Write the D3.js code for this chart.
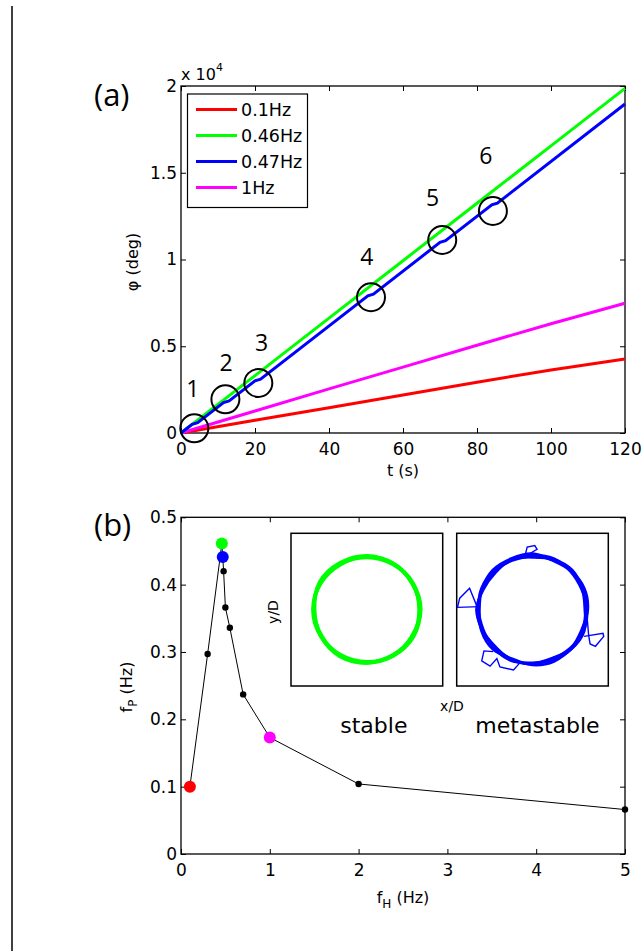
<!DOCTYPE html>
<html>
<head>
<meta charset="utf-8">
<script src="https://cdn.jsdelivr.net/npm/d3@7"></script>
<style>
body { margin: 0; background: #fff; }
svg { display: block; }
text { font-family: "DejaVu Sans", sans-serif; fill: #000; }
.calib { font-family: "Open Sans", sans-serif; }
</style>
</head>
<body>
<div class="fig"></div>
<script>

// ---- panel (a): phase vs time ----
var tA = [0, 20, 40, 60, 80, 100, 120];
var phiRed = [0, 730, 1460, 2190, 2930, 3630, 4260];
var phiGreen = [0, 3310, 6620, 9930, 13240, 16550, 19860];
var phiMagenta = [0, 1270, 2540, 3800, 5060, 6300, 7480];
var tBlue = [0, 3, 4.5, 11.5, 13, 20, 21.5, 50.5, 52, 70, 71.5, 84, 85.5, 120];
var phiBlue = [0, 497, 595, 1753, 1852, 3010, 3108, 7908, 8006, 10985, 11083, 13152, 13250, 18960];
var legendLabels = ["0.1Hz", "0.46Hz", "0.47Hz", "1Hz"];
var yTicksA = [0, 5000, 10000, 15000, 20000];
var xTicksA = [0, 20, 40, 60, 80, 100, 120];

// phase slips marked with circles
var slipT = [3.6, 12, 20.9, 51.35, 70.6, 84.3];
var slipPhi = [271, 1944, 2882, 7824, 11124, 12795];
var slipLabelT = [3.2, 12.2, 21.8, 50.2, 68, 82.4];
var slipLabelPhi = [2594, 4110, 5262, 10202, 13585, 16023];

// ---- panel (b): fP vs fH ----
var fH = [0.1, 0.3, 0.46, 0.47, 0.48, 0.5, 0.55, 0.7, 1, 2, 5];
var fP = [0.1, 0.297, 0.461, 0.441, 0.42, 0.366, 0.336, 0.237, 0.173, 0.104, 0.066];
var markedHz = [0.1, 0.46, 0.47, 1];
var xTicksB = [0, 1, 2, 3, 4, 5];
var yTicksB = [0, 0.1, 0.2, 0.3, 0.4, 0.5];

// insets: orbit radius (x/D units) sampled at equal angles
var greenLoops = [
  [0.70, 0.70, 0.69, 0.70, 0.71, 0.70, 0.69, 0.69, 0.70, 0.71, 0.70, 0.69],
  [0.69, 0.69, 0.70, 0.69, 0.70, 0.69, 0.70, 0.70, 0.69, 0.70, 0.71, 0.70],
  [0.71, 0.70, 0.70, 0.71, 0.69, 0.70, 0.70, 0.71, 0.70, 0.69, 0.72, 0.71]
];
var blueLoops = [
  [0.72, 0.73, 0.71, 0.70, 0.72, 0.73, 0.71, 0.70, 0.72, 0.71, 0.70, 0.72, 0.73, 0.71, 0.70, 0.71],
  [0.70, 0.71, 0.73, 0.72, 0.70, 0.71, 0.73, 0.72, 0.70, 0.73, 0.72, 0.70, 0.71, 0.73, 0.72, 0.70],
  [0.74, 0.70, 0.72, 0.74, 0.73, 0.70, 0.72, 0.74, 0.73, 0.70, 0.74, 0.73, 0.70, 0.72, 0.74, 0.73],
  [0.69, 0.72, 0.74, 0.71, 0.69, 0.74, 0.73, 0.69, 0.71, 0.72, 0.69, 0.71, 0.74, 0.70, 0.69, 0.72]
];
var blueExcursions = [
  [[-0.69, 0.04], [-0.99, 0.03], [-0.96, 0.15], [-0.83, 0.28], [-0.74, 0.06], [-0.70, 0.02]],
  [[-0.10, 0.70], [-0.07, 0.82], [0.03, 0.84], [0.06, 0.79], [-0.06, 0.72], [-0.02, 0.71]],
  [[0.72, -0.09], [0.74, -0.33], [0.76, -0.45], [0.83, -0.48], [0.94, -0.35], [0.93, -0.31], [0.68, -0.35]],
  [[-0.52, -0.55], [-0.64, -0.54], [-0.67, -0.67], [-0.56, -0.74], [-0.47, -0.64], [-0.43, -0.75],
   [-0.25, -0.79], [-0.17, -0.70], [-0.30, -0.64], [-0.40, -0.60]]
];

var width = 643, height = 951;
var svg = d3.select(".fig").append("svg")
    .attr("width", width)
    .attr("height", height);

var colors = d3.scaleOrdinal().domain(legendLabels).range(["#ff0000", "#00ff00", "#0000ff", "#ff00ff"]);
var colorByHz = d3.scaleOrdinal().domain(markedHz).range(["#ff0000", "#00ff00", "#0000ff", "#ff00ff"]);

// left margin rule
svg.append("line")
    .attr("x1", 12).attr("x2", 12).attr("y1", 6).attr("y2", height)
    .attr("stroke", "#000").attr("stroke-width", 1.5);

// helper: boxed matlab-style axes with inward ticks
function boxAxes(g, x, y, xt, yt, xfmt, yfmt) {
    var r = x.range(), b = y.range();
    g.append("g").attr("transform", "translate(0," + b[0] + ")")
        .call(d3.axisBottom(x).tickValues(xt).tickFormat(xfmt).tickSizeInner(-5).tickSizeOuter(0).tickPadding(10));
    g.append("g").attr("transform", "translate(0," + b[1] + ")")
        .call(d3.axisTop(x).tickValues(xt).tickFormat("").tickSizeInner(-5).tickSizeOuter(0));
    g.append("g").attr("transform", "translate(" + r[0] + ",0)")
        .call(d3.axisLeft(y).tickValues(yt).tickFormat(yfmt).tickSizeInner(-5).tickSizeOuter(0).tickPadding(4));
    g.append("g").attr("transform", "translate(" + r[1] + ",0)")
        .call(d3.axisRight(y).tickValues(yt).tickFormat("").tickSizeInner(-5).tickSizeOuter(0));
    g.selectAll(".domain").remove();
    g.selectAll(".tick line").attr("stroke", "#000");
    g.selectAll(".tick text").attr("font-size", 17).attr("font-family", "DejaVu Sans");
    g.append("rect")
        .attr("x", r[0]).attr("y", b[1])
        .attr("width", r[1] - r[0]).attr("height", b[0] - b[1])
        .attr("fill", "none").attr("stroke", "#000").attr("stroke-width", 1.3);
}

// ================= panel (a) =================
var xA = d3.scaleLinear().domain([0, 120]).range([181, 625]);
var yA = d3.scaleLinear().domain([0, 20000]).range([433, 86]);
var gA = svg.append("g");

boxAxes(gA, xA, yA, xTicksA, yTicksA, d3.format("d"), function(d) { return d3.format("~g")(d / 10000); });

var lineA = d3.line().x(function(d) { return xA(d[0]); }).y(function(d) { return yA(d[1]); });
var seriesA = [
    {name: "0.1Hz", pts: d3.zip(tA, phiRed)},
    {name: "1Hz", pts: d3.zip(tA, phiMagenta)},
    {name: "0.46Hz", pts: d3.zip(tA, phiGreen)},
    {name: "0.47Hz", pts: d3.zip(tBlue, phiBlue)}
];
gA.selectAll("path.series")
    .data(seriesA)
    .enter().append("path")
    .attr("class", "series")
    .attr("fill", "none")
    .attr("stroke", function(d) { return colors(d.name); })
    .attr("stroke-width", 3)
    .attr("d", function(d) { return lineA(d.pts); });

// slip circles and numbers
gA.selectAll("circle.slip")
    .data(d3.zip(slipT, slipPhi))
    .enter().append("circle")
    .attr("class", "slip")
    .attr("cx", function(d) { return xA(d[0]); })
    .attr("cy", function(d) { return yA(d[1]); })
    .attr("r", 14)
    .attr("fill", "none").attr("stroke", "#000").attr("stroke-width", 2);
gA.selectAll("text.sliplab")
    .data(d3.zip(slipLabelT, slipLabelPhi))
    .enter().append("text")
    .attr("class", "sliplab calib")
    .attr("x", function(d) { return xA(d[0]); })
    .attr("y", function(d) { return yA(d[1]); })
    .attr("text-anchor", "middle")
    .attr("dominant-baseline", "central")
    .attr("font-size", 23)
    .text(function(d, i) { return i + 1; });

// legend
var leg = gA.append("g");
leg.append("rect")
    .attr("x", 187.5).attr("y", 94).attr("width", 120).attr("height", 113.5)
    .attr("fill", "#fff").attr("stroke", "#000").attr("stroke-width", 1.2);
var legItem = leg.selectAll("g.item")
    .data(legendLabels)
    .enter().append("g")
    .attr("class", "item")
    .attr("transform", function(d, i) { return "translate(196," + (109.5 + i * 26) + ")"; });
legItem.append("line")
    .attr("x1", 0).attr("x2", 41)
    .attr("stroke", function(d) { return colors(d); })
    .attr("stroke-width", 3);
legItem.append("text")
    .attr("x", 45)
    .attr("dominant-baseline", "central")
    .attr("font-size", 17.5)
    .text(function(d) { return d; });

// exponent
var expo = gA.append("text").attr("x", 181).attr("y", 80).attr("font-size", 16);
expo.append("tspan").text("x 10");
expo.append("tspan").attr("font-size", 11).attr("dy", -9).text("4");

gA.append("text")
    .attr("transform", "translate(138,262) rotate(-90)")
    .attr("text-anchor", "middle")
    .attr("font-size", 16)
    .text("φ (deg)");
gA.append("text")
    .attr("x", 403).attr("y", 476)
    .attr("text-anchor", "middle")
    .attr("font-size", 16)
    .text("t (s)");
gA.append("text")
    .attr("class", "calib")
    .attr("x", 94).attr("y", 106)
    .attr("font-size", 31)
    .text("(a)");

// ================= panel (b) =================
var xB = d3.scaleLinear().domain([0, 5]).range([181, 625]);
var yB = d3.scaleLinear().domain([0, 0.5]).range([854, 517.3]);
var gB = svg.append("g");

boxAxes(gB, xB, yB, xTicksB, yTicksB, d3.format("d"), d3.format("~g"));

var ptsB = d3.zip(fH, fP);
gB.append("path")
    .datum(ptsB)
    .attr("fill", "none")
    .attr("stroke", "#000")
    .attr("stroke-width", 1)
    .attr("d", d3.line().x(function(d) { return xB(d[0]); }).y(function(d) { return yB(d[1]); }));

gB.selectAll("circle.blk")
    .data(ptsB.filter(function(d) { return markedHz.indexOf(d[0]) < 0; }))
    .enter().append("circle")
    .attr("class", "blk")
    .attr("cx", function(d) { return xB(d[0]); })
    .attr("cy", function(d) { return yB(d[1]); })
    .attr("r", 3.2)
    .attr("fill", "#000");
gB.selectAll("circle.mark")
    .data(ptsB.filter(function(d) { return markedHz.indexOf(d[0]) >= 0; }))
    .enter().append("circle")
    .attr("class", "mark")
    .attr("cx", function(d) { return xB(d[0]); })
    .attr("cy", function(d) { return yB(d[1]); })
    .attr("r", 6)
    .attr("fill", function(d) { return colorByHz(d[0]); });

var yLab = gB.append("text")
    .attr("transform", "translate(132,687) rotate(-90)")
    .attr("text-anchor", "middle")
    .attr("font-size", 16);
yLab.append("tspan").text("f");
yLab.append("tspan").attr("font-size", 12).attr("dy", 5).text("P");
yLab.append("tspan").attr("dy", -5).text(" (Hz)");

var xLab = gB.append("text")
    .attr("x", 403).attr("y", 903)
    .attr("text-anchor", "middle")
    .attr("font-size", 16);
xLab.append("tspan").text("f");
xLab.append("tspan").attr("font-size", 12).attr("dy", 5).text("H");
xLab.append("tspan").attr("dy", -5).text(" (Hz)");

gB.append("text")
    .attr("class", "calib")
    .attr("x", 94).attr("y", 536)
    .attr("font-size", 31)
    .text("(b)");

// ---- insets ----
var insets = [
    {x0: 291, x1: 442.7, color: "#00ff00", loops: greenLoops, sw: 3.8, exc: [], label: "stable"},
    {x0: 456.7, x1: 608.3, color: "#0000ff", loops: blueLoops, sw: 2.6, exc: blueExcursions, label: "metastable"}
];
var insetTop = 533.3, insetBottom = 686;

insets.forEach(function(ins) {
    var xs = d3.scaleLinear().domain([-1, 1]).range([ins.x0, ins.x1]);
    var ys = d3.scaleLinear().domain([-1, 1]).range([insetBottom, insetTop]);
    var rs = d3.scaleLinear().domain([0, 1]).range([0, (ins.x1 - ins.x0) / 2]);
    var g = gB.append("g");
    g.append("rect")
        .attr("x", ins.x0).attr("y", insetTop)
        .attr("width", ins.x1 - ins.x0).attr("height", insetBottom - insetTop)
        .attr("fill", "#fff").attr("stroke", "#000").attr("stroke-width", 1.5);
    var cx = xs(0), cy = ys(0);
    g.selectAll("path.loop")
        .data(ins.loops)
        .enter().append("path")
        .attr("class", "loop")
        .attr("transform", "translate(" + cx + "," + cy + ")")
        .attr("fill", "none")
        .attr("stroke", ins.color)
        .attr("stroke-width", ins.sw)
        .attr("d", function(radii) {
            return d3.lineRadial()
                .angle(function(d, i) { return i * 2 * Math.PI / radii.length; })
                .radius(function(d) { return rs(d); })
                .curve(d3.curveCatmullRomClosed)(radii);
        });
    g.selectAll("path.exc")
        .data(ins.exc)
        .enter().append("path")
        .attr("class", "exc")
        .attr("fill", "none")
        .attr("stroke", ins.color)
        .attr("stroke-width", 1.4)
        .attr("d", d3.line().x(function(d) { return xs(d[0]); }).y(function(d) { return ys(d[1]); }));
    g.append("text")
        .attr("x", (ins.x0 + ins.x1) / 2 + (ins.label === "stable" ? 7 : 5))
        .attr("y", 733)
        .attr("text-anchor", "middle")
        .attr("font-size", 22)
        .text(ins.label);
});

gB.append("text")
    .attr("transform", "translate(278,612) rotate(-90)")
    .attr("text-anchor", "middle")
    .attr("font-size", 14)
    .text("y/D");
gB.append("text")
    .attr("x", 452).attr("y", 711)
    .attr("text-anchor", "middle")
    .attr("font-size", 14)
    .text("x/D");

</script>
</body>
</html>
